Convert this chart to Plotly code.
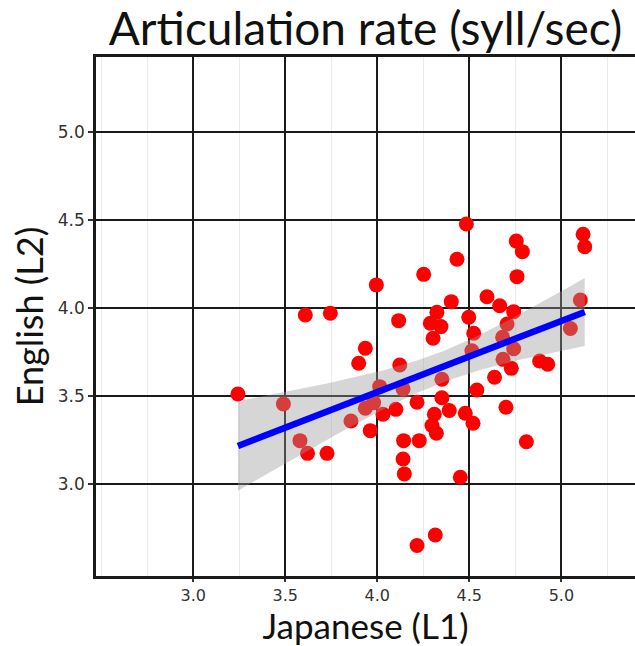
import numpy as np
import plotly.graph_objects as go

# Japanese (L1) articulation rate vs English (L2) articulation rate
japanese_l1 = [3.243, 3.49, 3.58, 3.621, 3.727, 3.609, 3.745, 3.857, 3.899, 3.935,
               3.935, 3.98, 3.962, 3.995, 4.013, 4.031, 4.101, 4.116, 4.122, 4.14,
               4.143, 4.14, 4.147, 4.216, 4.228, 4.216, 4.252, 4.288, 4.297, 4.303,
               4.31, 4.315, 4.321, 4.324, 4.346, 4.351, 4.351, 4.391, 4.402, 4.433,
               4.451, 4.478, 4.484, 4.497, 4.514, 4.52, 4.524, 4.541, 4.596, 4.637,
               4.665, 4.681, 4.683, 4.699, 4.705, 4.728, 4.741, 4.741, 4.755, 4.759,
               4.788, 4.81, 4.882, 4.926, 5.049, 5.103, 5.118, 5.127]
english_l2 = [3.511, 3.455, 3.246, 3.174, 3.174, 3.96, 3.97, 3.358, 3.686, 3.771,
              3.43, 3.462, 3.303, 4.131, 3.553, 3.396, 3.424, 3.928, 3.676, 3.54,
              3.246, 3.142, 3.057, 3.464, 3.246, 2.65, 4.191, 3.913, 3.332, 3.828,
              3.396, 2.71, 3.288, 3.975, 3.894, 3.595, 3.49, 3.417, 4.036, 4.277,
              3.038, 3.402, 4.477, 3.947, 3.757, 3.345, 3.856, 3.534, 4.064, 3.606,
              4.013, 3.834, 3.708, 3.436, 3.909, 3.657, 3.979, 3.768, 4.38, 4.178,
              4.32, 3.24, 3.699, 3.68, 3.883, 4.045, 4.419, 4.348]

tick_vals = [3.0, 3.5, 4.0, 4.5, 5.0]
tick_text = ["3.0", "3.5", "4.0", "4.5", "5.0"]

x = np.array(japanese_l1)
y = np.array(english_l2)
n = len(x)
slope, intercept = np.polyfit(x, y, 1)
resid = y - (slope * x + intercept)
s = np.sqrt(np.sum(resid ** 2) / (n - 2))
sxx = np.sum((x - x.mean()) ** 2)
t_crit = 1.997  # t(0.975, df=66)
xs = np.linspace(x.min(), x.max(), 80)
fit = slope * xs + intercept
se = s * np.sqrt(1.0 / n + (xs - x.mean()) ** 2 / sxx)
upper = fit + t_crit * se
lower = fit - t_crit * se

FONT = "Lato, 'Open Sans', sans-serif"
TICKFONT = "'DejaVu Sans', Verdana, sans-serif"

fig = go.Figure()
fig.add_trace(go.Scatter(x=japanese_l1, y=english_l2, mode="markers",
                         marker=dict(color="#FF0000", size=15, line=dict(width=0)),
                         showlegend=False, hoverinfo="x+y"))
fig.add_trace(go.Scatter(x=np.concatenate([xs, xs[::-1]]),
                         y=np.concatenate([upper, lower[::-1]]),
                         fill="toself", fillcolor="rgba(153,153,153,0.4)",
                         line=dict(width=0), mode="lines", showlegend=False,
                         hoverinfo="skip"))
fig.add_trace(go.Scatter(x=xs, y=fit, mode="lines",
                         line=dict(color="#0000FF", width=6.5),
                         showlegend=False))

fig.update_layout(
    width=635, height=646,
    margin=dict(l=96, r=0, t=57, b=70),
    paper_bgcolor="white", plot_bgcolor="white",
    font=dict(family=FONT, color="#222222"),
    title=dict(text="Articulation rate (syll/sec)", x=0.5, xref="paper",
               y=1 - 29 / 646, yref="container", yanchor="middle", xanchor="center",
               font=dict(size=46, color="#111111", family=FONT)),
)
fig.update_xaxes(
    range=[2.472, 5.40], tickvals=tick_vals, ticktext=tick_text,
    showgrid=True, gridcolor="#1a1a1a", gridwidth=2,
    minor=dict(dtick=0.25, tick0=2.75, showgrid=True, gridcolor="#EBEBEB", gridwidth=1),
    showline=True, linecolor="#1a1a1a", linewidth=2.5, mirror=True,
    ticks="outside", ticklen=3, tickcolor="#333333", tickwidth=1.5,
    tickfont=dict(size=16, color="#333333", family=TICKFONT), zeroline=False,
    title=dict(text="Japanese (L1)", font=dict(size=35, color="#111111"), standoff=5),
)
fig.update_yaxes(
    range=[2.477, 5.426], tickvals=tick_vals, ticktext=tick_text,
    showgrid=True, gridcolor="#1a1a1a", gridwidth=2,
    showline=True, linecolor="#1a1a1a", linewidth=2.5,
    ticks="outside", ticklen=5, tickcolor="#333333", tickwidth=1.5,
    tickfont=dict(size=17, color="#333333", family=TICKFONT), zeroline=False,
    title=dict(text="English (L2)", font=dict(size=36, color="#111111"), standoff=4),
)

fig.write_html("out.html")
